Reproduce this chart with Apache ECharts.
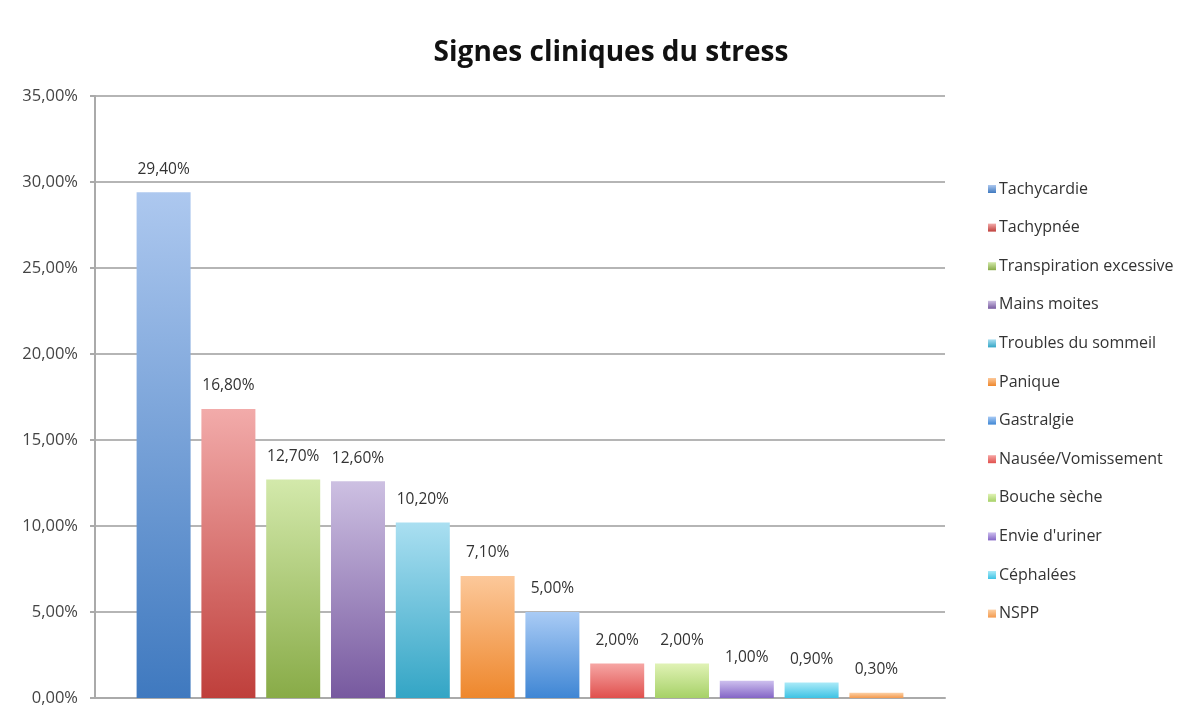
<!DOCTYPE html>
<html>
<head>
<meta charset="utf-8">
<script src="https://cdn.jsdelivr.net/npm/echarts@6/dist/echarts.min.js"></script>
<style>html,body{margin:0;padding:0;background:#fff}#c{width:1202px;height:718px}</style>
</head>
<body>
<div id="c"></div>
<script>
var categories = ["Tachycardie","Tachypnée","Transpiration excessive","Mains moites","Troubles du sommeil","Panique","Gastralgie","Nausée/Vomissement","Bouche sèche","Envie d'uriner","Céphalées","NSPP"];
var values = [29.4, 16.8, 12.7, 12.6, 10.2, 7.1, 5.0, 2.0, 2.0, 1.0, 0.9, 0.3];
var yTicks = [0, 5, 10, 15, 20, 25, 30, 35];

var palette = [
  ["#adc8ef", "#3f79bf", "#4f81bd"],
  ["#f2abaa", "#bf3f3b", "#c0504d"],
  ["#d3e9ab", "#88ab47", "#9bbb59"],
  ["#cdc0e2", "#77599f", "#8064a2"],
  ["#aadff1", "#33a5c5", "#4bacc6"],
  ["#fcc89a", "#ee872c", "#f79646"],
  ["#a9cbf5", "#3f86d4", "#4f8fd9"],
  ["#f6a6a4", "#e0504d", "#e05a57"],
  ["#e0f2b5", "#a6d167", "#b2d66f"],
  ["#cdbfee", "#8465c6", "#9678cf"],
  ["#aaeaf8", "#3ec3e4", "#52c6e4"],
  ["#fcd0a4", "#f39a4e", "#f7a45c"]
];
function fmt(v){ return v.toFixed(2).replace('.', ',') + '%'; }

var series = categories.map(function(name, i){
  return {
    name: name,
    type: 'bar',
    data: [values[i]],
    barWidth: 54,
    barGap: '20%',
    itemStyle: {
      color: new echarts.graphic.LinearGradient(0,0,0,1,[{offset:0,color:palette[i][0]},{offset:1,color:palette[i][1]}])
    },
    label: {
      show: true, position: 'top', distance: 15,
      formatter: function(p){ return fmt(p.value); },
      color: '#333', fontSize: 15.5, fontFamily: 'Open Sans'
    }
  };
});

var chart = echarts.init(document.getElementById('c'));
chart.setOption({
  animation: false,
  color: palette.map(function(p){return p[2];}),
  title: {
    text: 'Signes cliniques du stress',
    left: 606, textAlign: 'center', top: 34,
    textStyle: { fontFamily: 'Open Sans', fontWeight: 'bold', fontSize: 28, color: '#111' }
  },
  legend: {
    orient: 'vertical', left: 983, top: 176,
    itemWidth: 8, itemHeight: 8, itemGap: 22.6,
    icon: 'rect',
    textStyle: { fontFamily: 'Open Sans', fontSize: 16, color: '#333', padding: [0,0,0,-2] },
    data: categories
  },
  grid: { left: 95, right: 257, top: 96, bottom: 20 },
  xAxis: {
    type: 'category', data: [''],
    axisLine: { lineStyle: { color: '#aaa', width: 2 } },
    axisTick: { show: false }, axisLabel: { show: false }
  },
  yAxis: {
    type: 'value', min: 0, max: 35, interval: 5,
    axisLine: { show: true, lineStyle: { color: '#aaa', width: 2 } },
    axisTick: { show: true, length: 5, lineStyle: { color: '#aaa', width: 2 } },
    splitLine: { lineStyle: { color: '#b5b5b5', width: 2 } },
    axisLabel: {
      formatter: function(v){ return fmt(v); },
      color: '#444', fontSize: 16.5, fontFamily: 'Open Sans', margin: 17
    }
  },
  series: series
});
</script>
</body>
</html>
